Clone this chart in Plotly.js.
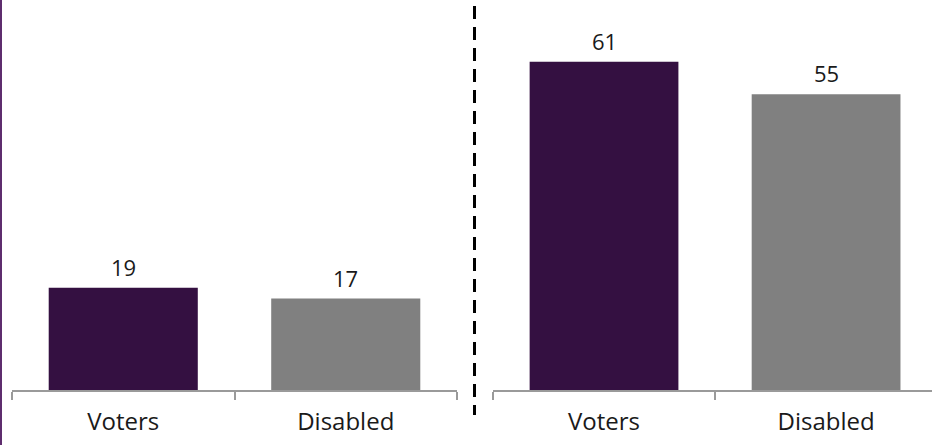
<!DOCTYPE html>
<html>
<head>
<meta charset="utf-8">
<script src="https://cdn.plot.ly/plotly-3.0.1.min.js"></script>
<style>html,body{margin:0;padding:0;background:#fff;}#chart{width:932px;height:445px;}</style>
</head>
<body>
<div id="chart"></div>
<script>
const categories = ["Voters", "Disabled"];
const leftValues = [19, 17];
const rightValues = [61, 55];
const barColors = ["#341041", "#808080"];

const fontFam = "Open Sans, Liberation Sans, sans-serif";
const txtColor = "#1a1a1a";

const traces = [
  {
    type: "bar", x: categories, y: leftValues, xaxis: "x", yaxis: "y",
    marker: {color: barColors}, hoverinfo: "skip"
  },
  {
    type: "bar", x: categories, y: rightValues, xaxis: "x2", yaxis: "y2",
    marker: {color: barColors}, hoverinfo: "skip"
  }
];

const annotations = [];
[[leftValues, "x", "y"], [rightValues, "x2", "y2"]].forEach(([vals, xr, yr]) => {
  vals.forEach((v, i) => {
    annotations.push({
      x: categories[i], y: v, xref: xr, yref: yr, text: String(v), showarrow: false,
      yanchor: "bottom", yshift: 4,
      font: {family: fontFam, size: 22, color: txtColor}
    });
  });
});

const xCommon = {
  type: "category", tickson: "boundaries", ticks: "outside", ticklen: 8,
  tickwidth: 2, tickcolor: "#9a9a9a", showline: true, linecolor: "#9a9a9a",
  linewidth: 2, showgrid: false, zeroline: false, fixedrange: true,
  ticklabelstandoff: 9,
  tickfont: {family: fontFam, size: 24, color: txtColor}
};
const yCommon = {range: [0, 72.5], visible: false, showgrid: false, zeroline: false, fixedrange: true};

const layout = {
  width: 932, height: 445,
  margin: {l: 0, r: 0, t: 0, b: 55, pad: 0},
  paper_bgcolor: "#ffffff", plot_bgcolor: "#ffffff",
  showlegend: false, bargap: 0.33,
  xaxis: Object.assign({}, xCommon, {domain: [12/932, 457/932], range: [-0.5, 1.5]}),
  xaxis2: Object.assign({}, xCommon, {domain: [493/932, 1], range: [-0.5, 1.477], anchor: "y2"}),
  yaxis: Object.assign({}, yCommon, {anchor: "x"}),
  yaxis2: Object.assign({}, yCommon, {anchor: "x2"}),
  annotations: annotations,
  shapes: [
    {type: "line", xref: "paper", yref: "paper", x0: 474.5/932, x1: 474.5/932, y0: 384/390, y1: -25/390,
     line: {color: "#000000", width: 3, dash: "13px,8px"}},
    {type: "line", xref: "paper", yref: "paper", x0: 1/932, x1: 1/932, y0: 1.05, y1: -56/390,
     line: {color: "#5e2d6e", width: 2}}
  ]
};

Plotly.newPlot("chart", traces, layout, {displayModeBar: false, staticPlot: true});
</script>
</body>
</html>
